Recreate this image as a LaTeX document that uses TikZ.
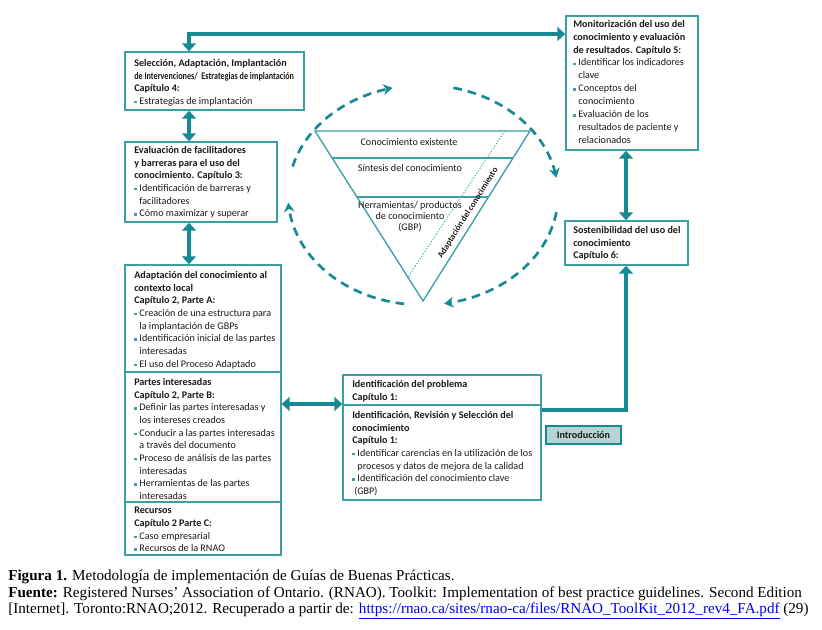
\documentclass[tikz,border=0pt]{standalone}
\usepackage{fontspec}
\setmainfont{Liberation Serif}
\newfontfamily\boxfont{Carlito}
\usepackage{graphicx}
\usetikzlibrary{arrows.meta,fit,calc}
\definecolor{tealbox}{RGB}{58,160,166}
\definecolor{tealarr}{RGB}{22,138,148}
\definecolor{introfill}{RGB}{185,211,212}
\definecolor{linkblue}{RGB}{0,0,238}
\definecolor{txt}{RGB}{25,25,25}
\newcommand\Bu{\textcolor{tealbox}{\rule[0.7pt]{1.9pt}{1.9pt}}\hspace{2pt}}
\newcommand\In{\hspace*{3.9pt}}
\begin{document}
\begin{tikzpicture}[x=0.75pt,y=-0.75pt,
 box/.style={draw=tealbox,line width=1.1pt,inner sep=0pt},
 btext/.style={anchor=north west,inner sep=0pt,align=left,font=\boxfont\fontsize{7.6}{9.5}\selectfont,text=txt},
 tarr/.style={draw=tealarr,line width=3pt,-{Triangle[length=6pt,width=10.5pt]}},
 dbl/.style={draw=tealarr,line width=3pt,{Triangle[length=6pt,width=10.5pt]}-{Triangle[length=6pt,width=10.5pt]}},
 dasharc/.style={draw=tealarr,line width=2pt,dash pattern=on 6.5pt off 4.5pt,-{Stealth[length=7pt,width=8pt]}},
 tri/.style={draw=tealbox,line width=1pt},
 ttext/.style={inner sep=0pt,font=\boxfont\fontsize{7.6}{9.4}\selectfont,text=txt,align=center},
 captxt/.style={anchor=west,inner sep=0pt,font=\fontsize{11.35}{12}\selectfont}
 ]
\useasboundingbox[fill=white] (0,0) rectangle (822,630);

% boxes
\node[box,fit={(125,52)(304,110)}] (A) {};
\node[box,fit={(125,142)(277,222)}] (B) {};
\node[box,fit={(125,265)(281,555)}] (C) {};
\node[box,fit={(566,16)(698,150)}] (D) {};
\node[box,fit={(565,221)(688,265)}] (E) {};
\node[box,fit={(343,375)(541,500)}] (F) {};
\node[box,fill=introfill,draw=tealarr,line width=1.5pt,fit={(546,426)(621,444)}] (I) {};
\draw[tealbox,line width=1.1pt] (C.west |- 0,372) -- (C.east |- 0,372);
\draw[tealbox,line width=1.1pt] (C.west |- 0,502) -- (C.east |- 0,502);
\draw[tealbox,line width=1.1pt] (F.west |- 0,405) -- (F.east |- 0,405);

% texts
\node[btext] (tA) at (134,59) {\textbf{Selección, Adaptación, Implantación}\\
\scalebox{0.8}[1]{\textbf{de Intervenciones/\ \ Estrategias de implantación}}\\
\textbf{Capítulo 4:}\\
\Bu Estrategias de implantación};
\node[btext] (tB) at (134,146) {\textbf{Evaluación de facilitadores}\\
\textbf{y barreras para el uso del}\\
\textbf{conocimiento. Capítulo 3:}\\
\Bu Identificación de barreras y\\
\In facilitadores\\
\Bu Cómo maximizar y superar};
\node[btext] (tC1) at (134,271) {\textbf{Adaptación del conocimiento al}\\
\textbf{contexto local}\\
\textbf{Capítulo 2, Parte A:}\\
\Bu Creación de una estructura para\\
\In la implantación de GBPs\\
\Bu Identificación inicial de las partes\\
\In interesadas\\
\Bu El uso del Proceso Adaptado};
\node[btext] (tC2) at (134,378) {\textbf{Partes interesadas}\\
\textbf{Capítulo 2, Parte B:}\\
\Bu Definir las partes interesadas y\\
\In los intereses creados\\
\Bu Conducir a las partes interesadas\\
\In a través del documento\\
\Bu Proceso de análisis de las partes\\
\In interesadas\\
\Bu Herramientas de las partes\\
\In interesadas};
\node[btext] (tC3) at (134,507) {\textbf{Recursos}\\
\textbf{Capítulo 2 Parte C:}\\
\Bu Caso empresarial\\
\Bu Recursos de la RNAO};
\node[btext,font=\boxfont\fontsize{7.6}{9.65}\selectfont] (tD) at (573,20) {\textbf{Monitorización del uso del}\\
\textbf{conocimiento y evaluación}\\
\textbf{de resultados. Capítulo 5:}\\
\Bu Identificar los indicadores\\
\In clave\\
\Bu Conceptos del\\
\In conocimiento\\
\Bu Evaluación de los\\
\In resultados de paciente y\\
\In relacionados};
\node[btext] (tE) at (573,226) {\textbf{Sostenibilidad del uso del}\\
\textbf{conocimiento}\\
\textbf{Capítulo 6:}};
\node[btext] (tF1) at (352,380) {\textbf{Identificación del problema}\\
\textbf{Capítulo 1:}};
\node[btext] (tF2) at (352,411) {\textbf{Identificación, Revisión y Selección del}\\
\textbf{conocimiento}\\
\textbf{Capítulo 1:}\\
\Bu Identificar carencias en la utilización de los\\
\In procesos y datos de mejora de la calidad\\
\Bu Identificación del conocimiento clave\\
\hspace*{1.5pt}(GBP)};
\node[ttext] (tI) at (I) {\textbf{Introducción}};

% connectors
\coordinate (cl) at (189,0);
\coordinate (cr) at (626,0);
\coordinate (ytop) at (0,34);
\coordinate (ymid) at (0,404);
\coordinate (ylow) at (0,410);
\draw[dbl] (A.north -| cl) |- (D.west |- ytop);
\draw[dbl] (A.south -| cl) -- (B.north -| cl);
\draw[dbl] (B.south -| cl) -- (C.north -| cl);
\draw[dbl] (C.east |- ymid) -- (F.west |- ymid);
\draw[dbl] (D.south -| cr) -- (E.north -| cr);
\draw[tarr] (F.east |- ylow) -| (E.south -| cr);

% triangle
\coordinate (T1) at (315,131);
\coordinate (T2) at (530,131);
\coordinate (T3) at (423,301);
\draw[tri] (T1) -- (T2) -- (T3) -- cycle;
\draw[tri] ($(T1)!0.159!(T3)$) -- ($(T2)!0.159!(T3)$);
\draw[tri] ($(T1)!0.388!(T3)$) -- ($(T2)!0.388!(T3)$);
\draw[tealbox,line width=0.6pt,dash pattern=on 1pt off 1.2pt] ($(T1)!0.883!(T2)$) -- ($(T1)!0.86!(T3)$);
\node[ttext] (k1) at (409,142) {Conocimiento existente};
\node[ttext] (k2) at (410,168) {Síntesis del conocimiento};
\node[ttext,font=\boxfont\fontsize{7.6}{8.3}\selectfont] (k3) at (410,217) {Herramientas/ productos\\de conocimiento\\(GBP)};
\node[ttext,rotate=57.8,font=\boxfont\bfseries\fontsize{6.5}{8}\selectfont] (k4) at (468,213) {Adaptación del conocimiento};

% dashed cycle
\draw[dasharc] plot[domain=165:103,samples=40] ({423+135*cos(\x)},{195-110*sin(\x)});
\draw[dasharc] plot[domain=77:9,samples=40] ({423+135*cos(\x)},{195-110*sin(\x)});
\draw[dasharc] plot[domain=-9:-81,samples=40] ({423+135*cos(\x)},{195-110*sin(\x)});
\draw[dasharc] plot[domain=-98:-176,samples=40] ({423+135*cos(\x)},{195-110*sin(\x)});

% caption
\node[captxt] (c1) at (8,577) {\textbf{Figura 1.} Metodología de implementación de Guías de Buenas Prácticas.};
\node[captxt] (c2) at (8,594) {\textbf{Fuente:} Registered Nurses’ Association of Ontario. (RNAO). Toolkit: Implementation of best practice guidelines. Second Edition};
\node[captxt] (c3) at (8,611) {[Internet]. Toronto:RNAO;2012. Recuperado a partir de: \textcolor{linkblue}{\underline{https://rnao.ca/sites/rnao-ca/files/RNAO\_ToolKit\_2012\_rev4\_FA.pdf}} (29)};
\end{tikzpicture}
\end{document}
